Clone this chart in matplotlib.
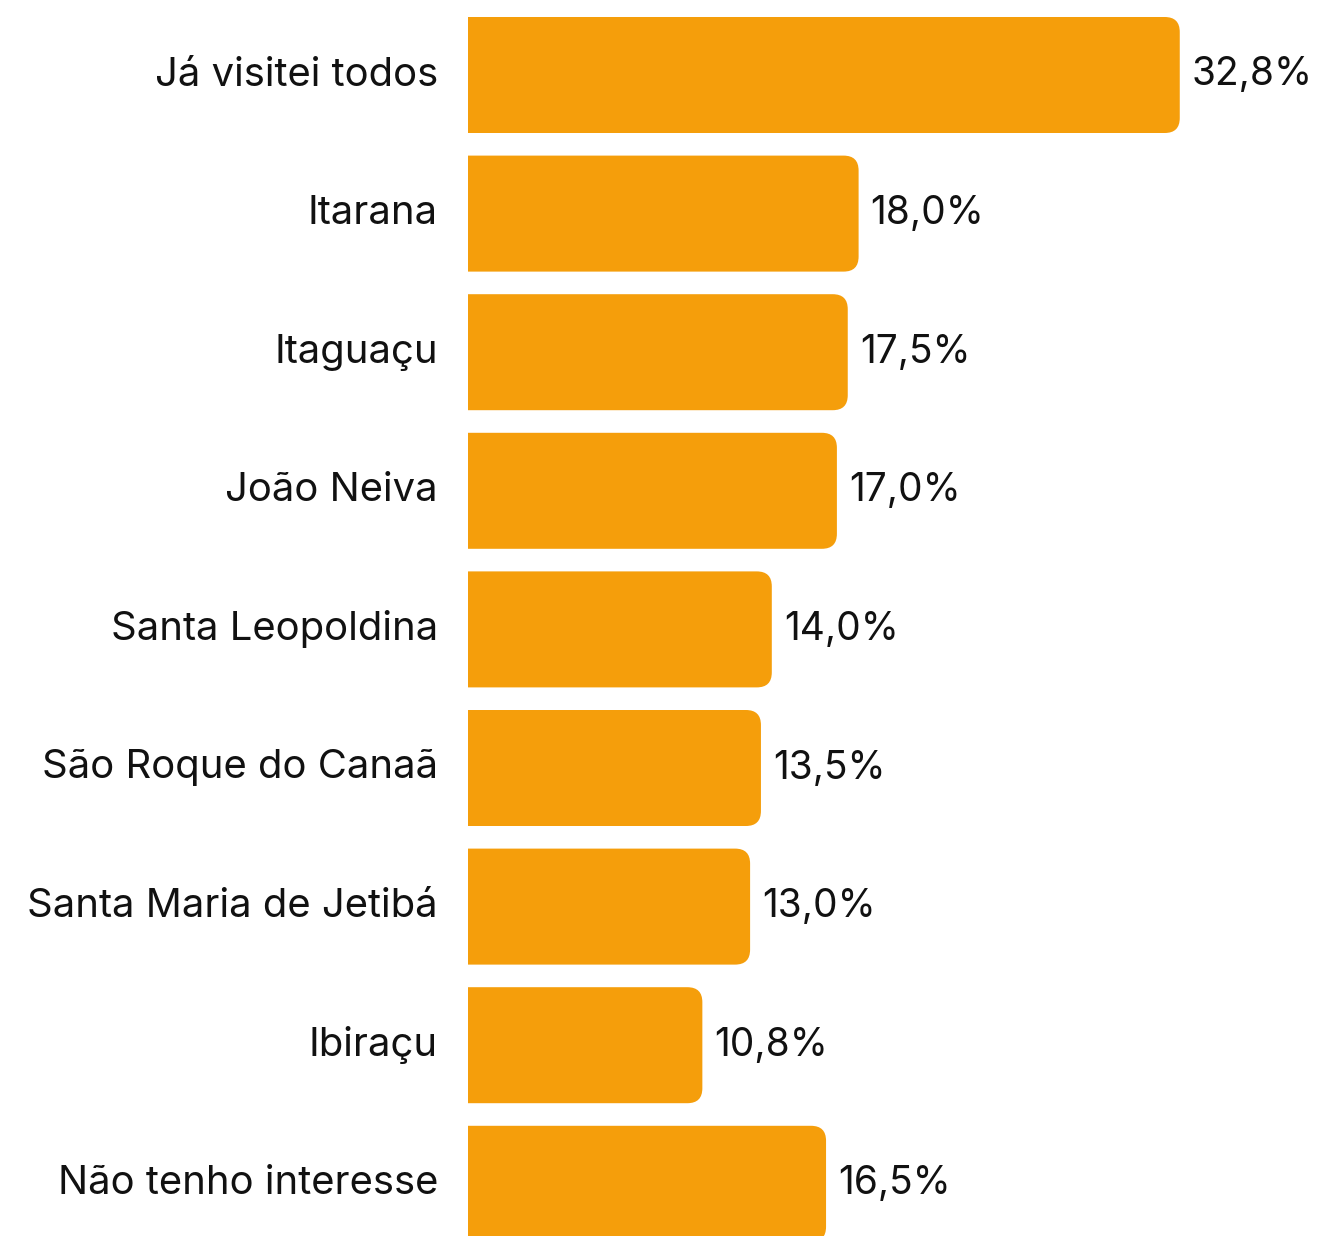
import matplotlib
matplotlib.use("Agg")
import matplotlib.pyplot as plt
from matplotlib.path import Path
from matplotlib.patches import PathPatch

# Dados
categorias = ["Já visitei todos", "Itarana", "Itaguaçu", "João Neiva", "Santa Leopoldina",
              "São Roque do Canaã", "Santa Maria de Jetibá", "Ibiraçu", "Não tenho interesse"]
valores = [32.8, 18.0, 17.5, 17.0, 14.0, 13.5, 13.0, 10.8, 16.5]
rotulos = ["32,8%", "18,0%", "17,5%", "17,0%", "14,0%", "13,5%", "13,0%", "10,8%", "16,5%"]

cor = "#F59E0B"
plt.rcParams["font.family"] = ["Inter", "DejaVu Sans"]

W, H = 1318, 1236
fig = plt.figure(figsize=(W / 100, H / 100), dpi=100)
x0 = 468
ax = fig.add_axes([x0 / W, 0, 1 - x0 / W, 1])

px_x = 21.7   # pixels por ponto percentual
px_y = 138.6  # pixels entre barras
topo = 75     # centro da primeira barra (px)
ax.set_xlim(0, (W - x0) / px_x)
ax.set_ylim((H - topo) / px_y, -topo / px_y)
ax.axis("off")

altura = 116 / px_y
pos = list(range(len(categorias)))
barras = ax.barh(pos, valores, height=altura, color=cor, linewidth=0)

# cantos arredondados só do lado direito
rx = 15 / px_x
ry = 15 / px_y


def barra_arredondada(w, y0, y1):
    verts = [(0, y0), (w - rx, y0), (w, y0), (w, y0 + ry), (w, y1 - ry),
             (w, y1), (w - rx, y1), (0, y1), (0, y0)]
    codes = [Path.MOVETO, Path.LINETO, Path.CURVE3, Path.CURVE3, Path.LINETO,
             Path.CURVE3, Path.CURVE3, Path.LINETO, Path.CLOSEPOLY]
    return Path(verts, codes)


for b, rot, cat in zip(barras, rotulos, categorias):
    w, y = b.get_width(), b.get_y()
    b.set_visible(False)
    ax.add_patch(PathPatch(barra_arredondada(w, y, y + altura), facecolor=cor, edgecolor="none"))
    yc = y + altura / 2
    ax.text(w + 12 / px_x, yc, rot, va="center", ha="left", fontsize=28, color="#111111")
    ax.text(-30 / px_x, yc, cat, va="center", ha="right", fontsize=28.8, color="#111111",
            clip_on=False)

fig.savefig("out.png", dpi=100)
